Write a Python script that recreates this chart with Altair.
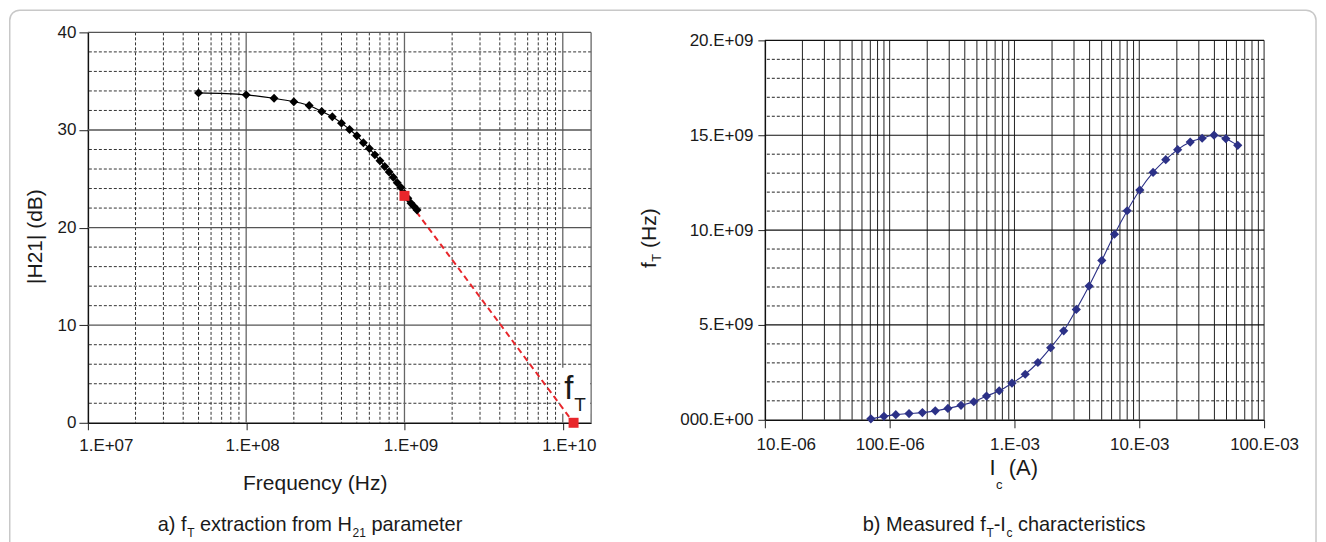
import altair as alt
import pandas as pd

# ---------------- panel a) |H21| versus frequency ----------------
freq_hz = [5.0e7, 1.0e8, 1.5e8, 2.0e8, 2.5e8, 3.0e8, 3.5e8, 4.0e8, 4.5e8, 5.0e8,
           5.5e8, 6.0e8, 6.5e8, 7.0e8, 7.5e8, 8.0e8, 8.5e8, 9.0e8, 9.5e8, 1.0e9,
           1.05e9, 1.1e9, 1.15e9, 1.2e9]
h21_db = [33.8, 33.6, 33.25, 32.9, 32.5, 31.9, 31.35, 30.7, 30.05, 29.4,
          28.7, 28.1, 27.45, 26.85, 26.25, 25.7, 25.15, 24.6, 24.1, 23.5,
          23.0, 22.5, 22.15, 21.8]
ext_freq_hz = [1.0e9, 1.17e10]
ext_db = [23.25, 0.0]

# ---------------- panel b) fT versus Ic ----------------
ic_a = [7.07e-5, 9.0e-5, 1.12e-4, 1.43e-4, 1.83e-4, 2.32e-4, 2.93e-4, 3.73e-4,
        4.72e-4, 5.97e-4, 7.55e-4, 9.55e-4, 1.22e-3, 1.54e-3, 1.95e-3, 2.48e-3,
        3.13e-3, 3.96e-3, 5.01e-3, 6.33e-3, 8.0e-3, 1.01e-2, 1.29e-2, 1.63e-2,
        2.03e-2, 2.56e-2, 3.19e-2, 3.97e-2, 4.94e-2, 6.15e-2]
ft_ghz = [0.05, 0.18, 0.27, 0.33, 0.38, 0.47, 0.60, 0.76, 0.95, 1.25,
          1.53, 1.93, 2.40, 3.02, 3.80, 4.69, 5.82, 7.05, 8.40, 9.78,
          11.02, 12.11, 13.04, 13.71, 14.24, 14.64, 14.84, 15.00, 14.82, 14.47]

# ---------------- ticks and labels ----------------
left_x_ticks = [1e7, 1e8, 1e9, 1e10]
left_x_labels = ["1.E+07", "1.E+08", "1.E+09", "1.E+10"]
left_x_max = 1.51e10
left_y_ticks = [0, 10, 20, 30, 40]
right_x_ticks = [1e-5, 1e-4, 1e-3, 1e-2, 1e-1]
right_x_labels = ["10.E-06", "100.E-06", "1.E-03", "10.E-03", "100.E-03"]
right_y_ticks = [0, 5e9, 10e9, 15e9, 20e9]
right_y_labels = ["000.E+00", "5.E+09", "10.E+09", "15.E+09", "20.E+09"]

FONT = "Liberation Sans"
TXT = "#1a1a1a"
RED = "#e8262b"
NAVY = "#2c3187"
TICK_FS = 17
TITLE_FS = 21
CAP_FS = 20
SUB_FS = 12

# advance widths (1/1000 em) of Liberation Sans, for placing text pieces side by side
_W = {" ": 278, "a": 556, "b": 556, "c": 500, "d": 556, "e": 556, "f": 278, "h": 556,
      "i": 222, "m": 833, "n": 556, "o": 556, "p": 556, "r": 333, "s": 500, "t": 278,
      "u": 556, "x": 500, "y": 500, "z": 500, "A": 667, "B": 667, "E": 667, "F": 611,
      "H": 722, "I": 278, "M": 833, "T": 611, "(": 333, ")": 333, "-": 333, "|": 260,
      ".": 278, "+": 584}


def tw(s, size):
    return sum(_W.get(ch, 556) for ch in s) * size / 1000.0


def label_expr(ticks, labels, log):
    parts = []
    for i in range(len(ticks) - 1):
        mid = (ticks[i] * ticks[i + 1]) ** 0.5 if log else (ticks[i] + ticks[i + 1]) / 2
        parts.append(f"datum.value < {mid!r} ? '{labels[i]}' : ")
    return "".join(parts) + f"'{labels[-1]}'"


one = pd.DataFrame({"k": [0]})


def txt(s, x, y, size, align="left", angle=0):
    kw = dict(text=s, align=align, baseline="alphabetic", font=FONT,
              fontSize=size, color=TXT)
    if angle:
        kw["angle"] = angle
    return alt.Chart(one).mark_text(**kw).encode(x=alt.value(x), y=alt.value(y))


def run(pieces, x0, y0, sub_drop, vertical=False):
    """pieces: list of (text, size, is_sub, gap_before). Returns text layers laid out in a row."""
    out = []
    pos = x0
    for s, size, is_sub, gap in pieces:
        pos += gap
        if vertical:
            out.append(txt(s, y0 + (sub_drop if is_sub else 0), pos, size, angle=270))
            pos -= tw(s, size)
        else:
            out.append(txt(s, pos, y0 + (sub_drop if is_sub else 0), size))
            pos += tw(s, size)
    return out


# ================= LEFT PANEL =================
lx_axis = alt.Axis(values=left_x_ticks, labelExpr=label_expr(left_x_ticks, left_x_labels, True),
                   title=None, grid=False, tickSize=7, tickColor="#222", domainColor="#111",
                   domainWidth=1.5, labelFont=FONT, labelFontSize=TICK_FS, labelColor=TXT,
                   labelPadding=7.5, labelFlush=False, labelOverlap=False,
                   labelOffset={"condition": {"test": "datum.value < 2e7", "value": 18}, "value": 6})
ly_axis = alt.Axis(values=left_y_ticks, title=None, grid=False, tickSize=9, tickColor="#222",
                   domainColor="#111", domainWidth=1.5, labelFont=FONT, labelFontSize=TICK_FS,
                   labelColor=TXT, labelPadding=3)
lx_scale = alt.Scale(type="log", domain=[1e7, left_x_max], nice=False)
ly_scale = alt.Scale(domain=[0, 40], nice=False)


def LX():
    return alt.X("x:Q", scale=lx_scale, axis=lx_axis)


def LY():
    return alt.Y("y:Q", scale=ly_scale, axis=ly_axis)


l_minor_x = pd.DataFrame({"x": [k * 10 ** n for n in (7, 8, 9) for k in range(2, 10)]})
l_major_x = pd.DataFrame({"x": [1e8, 1e9, 1e10, left_x_max]})
l_minor_y = pd.DataFrame({"y": [v for v in range(2, 40, 2) if v % 10]})
l_major_y = pd.DataFrame({"y": [10, 20, 30, 40]})

meas = pd.DataFrame({"x": freq_hz, "y": h21_db})
ext = pd.DataFrame({"x": ext_freq_hz, "y": ext_db})

left_layers = [
    alt.Chart(one).mark_rect(fillOpacity=0, stroke="#c8c8c8", strokeWidth=1.5, cornerRadius=10)
       .encode(x=alt.value(-78.25), x2=alt.value(1230), y=alt.value(-22.25), y2=alt.value(522)),
    alt.Chart(l_minor_x).mark_rule(color="#333", strokeWidth=1, strokeDash=[3, 2]).encode(x=LX()),
    alt.Chart(l_minor_y).mark_rule(color="#333", strokeWidth=1, strokeDash=[3, 2]).encode(y=LY()),
    alt.Chart(l_major_x).mark_rule(color="#666", strokeWidth=1.3).encode(x=LX()),
    alt.Chart(l_major_y).mark_rule(color="#555", strokeWidth=1.3).encode(y=LY()),
    alt.Chart(one).mark_rect(color="white").encode(
        x=alt.value(473), x2=alt.value(503), y=alt.value(336), y2=alt.value(382)),
    alt.Chart(ext).mark_line(color=RED, strokeWidth=2, strokeDash=[6, 4]).encode(x=LX(), y=LY()),
    alt.Chart(meas).mark_line(color="black", strokeWidth=1.1, interpolate="monotone").encode(x=LX(), y=LY()),
    alt.Chart(meas).mark_point(shape="diamond", filled=True, size=80, color="black", opacity=1)
       .encode(x=LX(), y=LY()),
    alt.Chart(ext).mark_square(size=100, color=RED, opacity=1).encode(x=LX(), y=LY()),
    # f_T annotation
    txt("f", 477, 367, 33),
    txt("T", 487, 379, 19),
    # axis titles
    txt("|H21| (dB)", -46, 204.5, TITLE_FS, align="center", angle=270),
    txt("Frequency (Hz)", 227.7, 458, TITLE_FS, align="center"),
]
# caption a)
left_layers += run([("a) f", CAP_FS, False, 0),
                    ("T", SUB_FS, True, 0.5),
                    ("extraction from H", CAP_FS, False, tw(" ", CAP_FS)),
                    ("21", SUB_FS, True, 0.5),
                    ("parameter", CAP_FS, False, tw(" ", CAP_FS))],
                   70, 499, 6)
left = alt.layer(*left_layers).properties(width=504, height=391)

# ================= RIGHT PANEL =================
rx_axis = alt.Axis(values=right_x_ticks, labelExpr=label_expr(right_x_ticks, right_x_labels, True),
                   title=None, grid=False, tickSize=8, tickColor="#222", domainColor="#111",
                   domainWidth=1.5, labelFont=FONT, labelFontSize=TICK_FS, labelColor=TXT,
                   labelPadding=8.5, labelFlush=False, labelOverlap=False,
                   labelOffset={"condition": {"test": "datum.value < 2e-5", "value": 21}, "value": 0})
ry_axis = alt.Axis(values=right_y_ticks, labelExpr=label_expr(right_y_ticks, right_y_labels, False),
                   title=None, grid=False, tickSize=7, tickColor="#222", domainColor="#111",
                   domainWidth=1.5, labelFont=FONT, labelFontSize=TICK_FS, labelColor=TXT,
                   labelPadding=5)
rx_scale = alt.Scale(type="log", domain=[1e-5, 1e-1], nice=False)
ry_scale = alt.Scale(domain=[0, 2e10], range=[388, 8], nice=False)


def RX():
    return alt.X("x:Q", scale=rx_scale, axis=rx_axis)


def RY():
    return alt.Y("y:Q", scale=ry_scale, axis=ry_axis)


r_vert = pd.DataFrame({"x": [k * 10.0 ** n for n in (-5, -4, -3, -2) for k in range(1, 10)][1:] + [1e-1]})
r_vert["y"] = 0.0
r_vert["y2"] = 2e10
r_minor_y = pd.DataFrame({"y": [v * 1e9 for v in range(1, 20) if v % 5]})
r_major_y = pd.DataFrame({"y": [5e9, 10e9, 15e9, 20e9]})
ftd = pd.DataFrame({"x": ic_a, "y": [v * 1e9 for v in ft_ghz]})

right_layers = [
    alt.Chart(r_vert).mark_rule(color="#222", strokeWidth=1).encode(x=RX(), y=RY(), y2="y2:Q"),
    alt.Chart(r_minor_y).mark_rule(color="#222", strokeWidth=1, strokeDash=[3, 2]).encode(y=RY()),
    alt.Chart(r_major_y).mark_rule(color="#111", strokeWidth=1.2).encode(y=RY()),
    alt.Chart(ftd).mark_line(color=NAVY, strokeWidth=1.1, interpolate="monotone").encode(x=RX(), y=RY()),
    alt.Chart(ftd).mark_point(shape="diamond", filled=True, size=85, color=NAVY, opacity=1)
       .encode(x=RX(), y=RY()),
]
# y title  f_T (Hz)  (rotated, reading upward)
right_layers += run([("f", TITLE_FS, False, 0),
                     ("T", 13, True, -0.5),
                     ("(Hz)", TITLE_FS, False, -tw(" ", TITLE_FS))],
                    236, -109, 5, vertical=True)
# x title  I_c (A)
right_layers += run([("I", 22, False, 0),
                     ("c", 13, True, 0.5),
                     ("(A)", 22, False, tw(" ", 22))],
                    225, 443, 14)
# caption b)
right_layers += run([("b) Measured f", CAP_FS, False, 0),
                     ("T", SUB_FS, True, 0.5),
                     ("-I", CAP_FS, False, 0),
                     ("c", SUB_FS, True, 0.5),
                     ("characteristics", CAP_FS, False, tw(" ", CAP_FS))],
                    98, 499, 6)
right = alt.layer(*right_layers).properties(width=500, height=388)

chart = alt.hconcat(left, right, spacing=174, bounds="flush").properties(
    padding=0, background="white"
).configure_view(stroke="transparent")

chart.save("out.html", embed_options={"renderer": "svg", "actions": False})
